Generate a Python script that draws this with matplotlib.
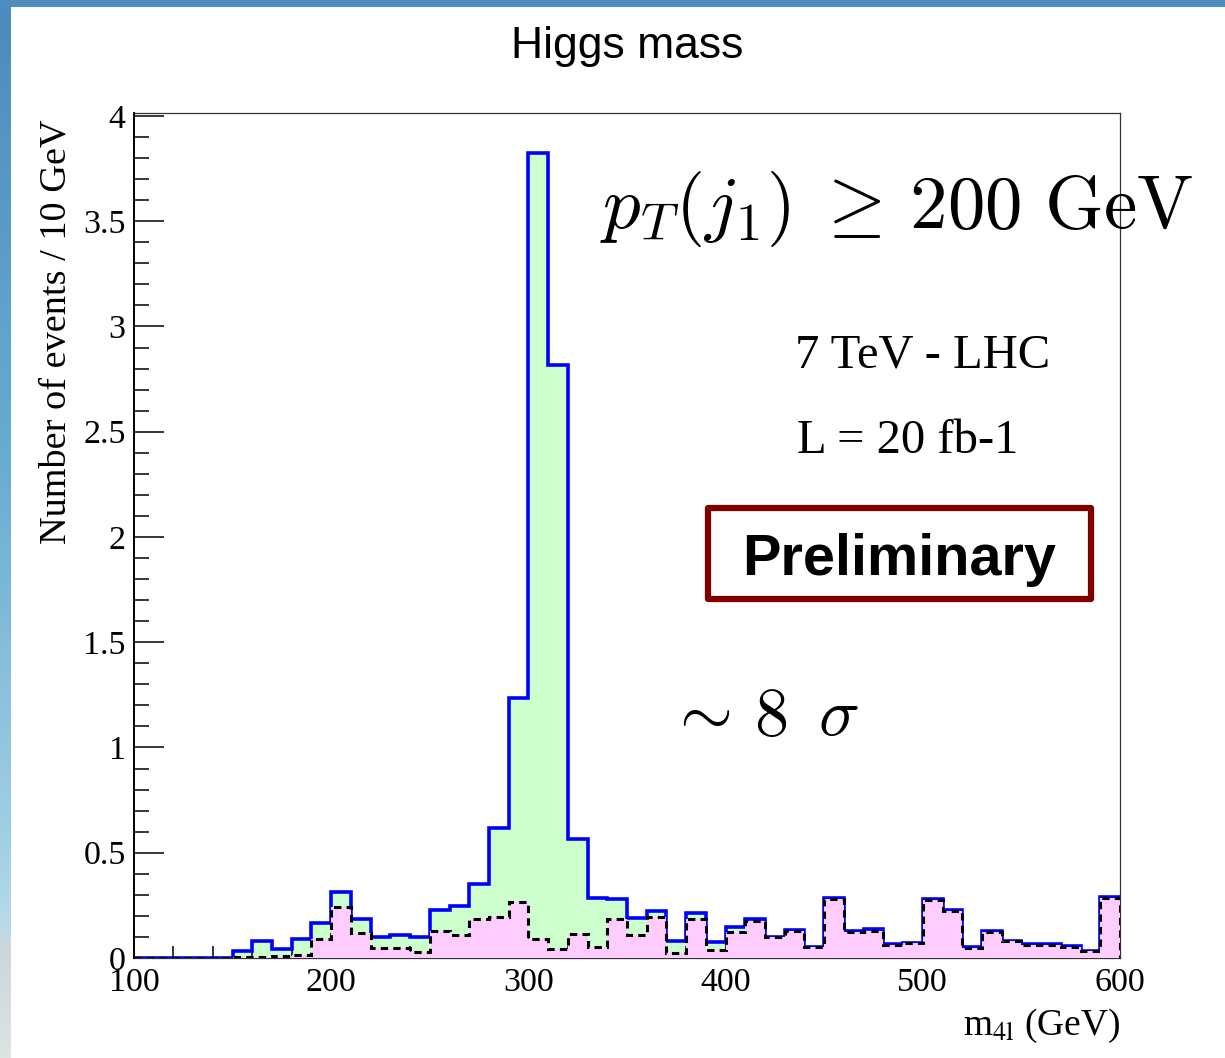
import numpy as np
import matplotlib
matplotlib.use("Agg")
import matplotlib.pyplot as plt
from matplotlib.colors import LinearSegmentedColormap
from matplotlib.patches import Rectangle

# ---------------- data ----------------
bin_low = 100
bin_high = 600
bin_width = 10
# signal + background (blue line, green fill)
total = [0, 0, 0, 0, 0,
         0.035, 0.080, 0.045, 0.092, 0.165,
         0.312, 0.185, 0.101, 0.108, 0.098,
         0.230, 0.248, 0.350, 0.617, 1.235,
         3.824, 2.817, 0.565, 0.285, 0.278,
         0.189, 0.225, 0.081, 0.215, 0.078,
         0.146, 0.184, 0.101, 0.133, 0.054,
         0.285, 0.128, 0.136, 0.065, 0.073,
         0.280, 0.226, 0.052, 0.128, 0.082,
         0.066, 0.065, 0.057, 0.035, 0.288]
# background only (black dashed line, pink fill)
background = [0, 0, 0, 0, 0,
              0.005, 0.005, 0.010, 0.012, 0.089,
              0.244, 0.120, 0.046, 0.049, 0.028,
              0.130, 0.109, 0.185, 0.193, 0.268,
              0.092, 0.044, 0.112, 0.054, 0.185,
              0.109, 0.193, 0.022, 0.184, 0.038,
              0.125, 0.177, 0.101, 0.130, 0.054,
              0.280, 0.125, 0.130, 0.062, 0.070,
              0.275, 0.222, 0.049, 0.125, 0.079,
              0.062, 0.060, 0.052, 0.032, 0.283]
y_ticks = [0, 0.5, 1, 1.5, 2, 2.5, 3, 3.5, 4]
y_tick_labels = ["0", "0.5", "1", "1.5", "2", "2.5", "3", "3.5", "4"]
x_ticks = [100, 200, 300, 400, 500, 600]
x_tick_labels = ["100", "200", "300", "400", "500", "600"]

W, H = 1225, 1058
DPI = 100
fig = plt.figure(figsize=(W / DPI, H / DPI), dpi=DPI, facecolor="white")

def fx(px):
    return px / W

def fy(py):
    return 1 - py / H

# ---- slide decoration: left and top strips ----
strip_cmap = LinearSegmentedColormap.from_list(
    "strip", [(0.0, "#4b8bbd"), (0.45, "#6aaed2"), (0.8, "#a2d0e3"),
              (0.87, "#b5dae8"), (0.9, "#cdd8dc"), (1.0, "#dde2e2")])
lax = fig.add_axes([0, 0, fx(10), 1])
lax.imshow(np.linspace(0, 1, 256).reshape(-1, 1), aspect="auto", cmap=strip_cmap)
lax.set_axis_off()
tax = fig.add_axes([0, fy(7), 1, 7 / H])
tax.imshow(np.zeros((1, 2)), aspect="auto",
           cmap=LinearSegmentedColormap.from_list("t", ["#4d8dbf", "#4d8dbf"]))
tax.set_axis_off()

# ---- main axes ----
ax_l, ax_r, ax_t, ax_b = 134, 1120, 113, 958
ax = fig.add_axes([fx(ax_l), fy(ax_b), fx(ax_r - ax_l), (ax_b - ax_t) / H])
edges = np.arange(bin_low, bin_high + bin_width, bin_width)

ax.stairs(total, edges, baseline=0, fill=True, color="#ccffcc", lw=0, zorder=1)
ax.stairs(total, edges, baseline=0, fill=False, color="#0000ff", lw=2.6, zorder=2)
ax.stairs(background, edges, baseline=0, fill=True, color="#ffccff", lw=0, zorder=3)
ax.stairs(background, edges, baseline=0, fill=False, color="black", lw=2.2,
          linestyle=(0, (2.4, 1.7)), zorder=4)

ax.set_xlim(bin_low, bin_high)
ax.set_ylim(0, 4.014)

ax.set_yticks(y_ticks)
ax.set_yticklabels(y_tick_labels)
ax.set_yticks(np.arange(0, 4.01, 0.1), minor=True)
ax.set_xticks(x_ticks)
ax.set_xticklabels(x_tick_labels)
ax.set_xticks(np.arange(100, 601, 20), minor=True)

ax.tick_params(axis="y", which="major", direction="in", length=21.5, width=1.1,
               right=False, pad=6, labelsize=24.5)
ax.tick_params(axis="y", which="minor", direction="in", length=10.8, width=1.1, right=False)
ax.tick_params(axis="x", which="major", direction="in", length=18, width=1.1,
               top=False, pad=7, labelsize=24.5)
ax.tick_params(axis="x", which="minor", direction="in", length=9, width=1.1, top=False)
for lab in ax.get_xticklabels() + ax.get_yticklabels():
    lab.set_family("Liberation Serif")

for side in ["top", "right", "bottom"]:
    ax.spines[side].set_linewidth(0.9)
    ax.spines[side].set_color("#333333")
ax.spines["left"].set_linewidth(1.4)
ax.spines["left"].set_zorder(6)

# ---- texts ----
fig.text(fx(627), fy(58), "Higgs mass", family="Liberation Sans", fontsize=32,
         ha="center", va="baseline")
fig.text(fx(56), fy(120), "Number of events / 10 GeV", family="Liberation Serif",
         fontsize=27.5, rotation=90, ha="center", va="top")
fig.text(fx(1120), fy(1035), r"m$_{\mathrm{4l}}$ (GeV)", family="Liberation Serif",
         math_fontfamily="stix", fontsize=27, ha="right", va="baseline")

fig.text(fx(600), fy(228), r"$p_T(j_1)\;\geq\,200\ \mathrm{GeV}$", math_fontfamily="cm",
         fontsize=54, ha="left", va="baseline")
fig.text(fx(795), fy(368), "7 TeV - LHC", family="Liberation Serif", fontsize=35,
         ha="left", va="baseline")
fig.text(fx(797), fy(453), "L = 20 fb-1", family="Liberation Serif", fontsize=35,
         ha="left", va="baseline")

box = Rectangle((fx(708), fy(599)), fx(1091 - 708), (599 - 508) / H,
                transform=fig.transFigure, facecolor="white", edgecolor="#800000",
                lw=4.5, joinstyle="round")
fig.add_artist(box)
fig.text(fx(899), fy(575), "Preliminary", family="Liberation Sans", weight="bold",
         fontsize=41.5, ha="center", va="baseline")

fig.text(fx(668), fy(735), r"$\sim\,8\,\ \sigma$", math_fontfamily="cm",
         fontsize=49, ha="left", va="baseline")

fig.savefig("out.png", dpi=DPI, facecolor="white")
